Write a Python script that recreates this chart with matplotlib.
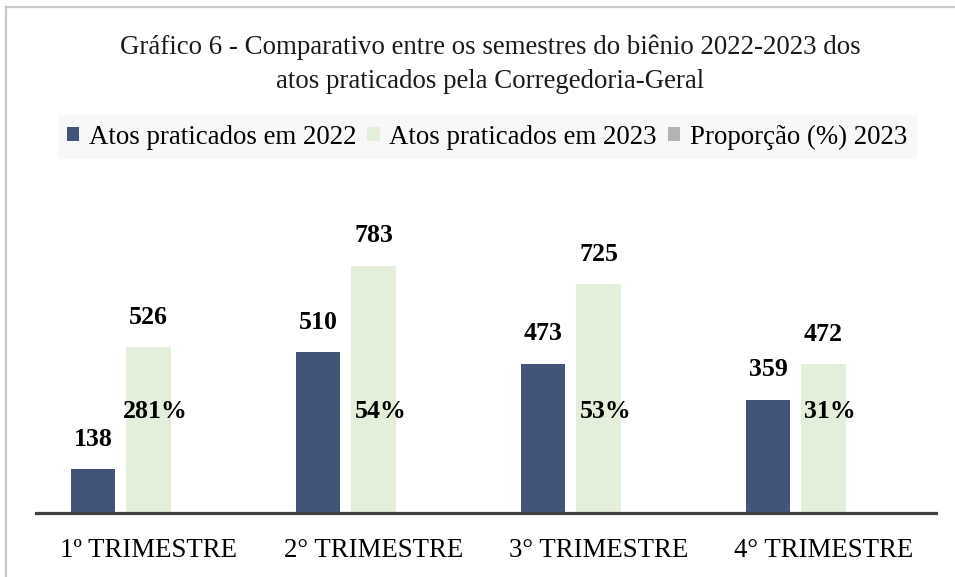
import matplotlib
matplotlib.use("Agg")
import matplotlib.pyplot as plt
from matplotlib.patches import Patch
from matplotlib.lines import Line2D
import numpy as np

categories = ["1º TRIMESTRE", "2° TRIMESTRE", "3° TRIMESTRE", "4° TRIMESTRE"]
atos_2022 = [138, 510, 473, 359]
atos_2023 = [526, 783, 725, 472]
proporcao_2023 = ["281%", "54%", "53%", "31%"]
series_names = ["Atos praticados em 2022", "Atos praticados em 2023", "Proporção (%) 2023"]
title_lines = ["Gráfico 6 - Comparativo entre os semestres do biênio 2022-2023 dos",
               "atos praticados pela Corregedoria-Geral"]

C_NAVY = "#425579"
C_GREEN = "#E3EFDA"
C_GRAY = "#B3B3B3"

plt.rcParams['font.family'] = ['Liberation Serif', 'DejaVu Serif']

W, H = 955, 577
fig = plt.figure(figsize=(W / 100, H / 100), dpi=100)
fig.patch.set_facecolor("white")

ax = fig.add_axes([36 / W, 1 - 513 / H, 900 / W, 284 / H])
ax.set_xlim(-0.5, 3.5)
ax.set_ylim(0, 900)

x = np.arange(len(categories))
bw = 0.196
off = 0.245
b1 = ax.bar(x - off, atos_2022, width=bw, color=C_NAVY, zorder=2)
b2 = ax.bar(x, atos_2023, width=bw, color=C_GREEN, zorder=2)

lab_fs = 18.6
for xi, v in zip(x - off, atos_2022):
    ax.annotate(str(v), (xi, v), xytext=(0, 21.6), textcoords="offset points",
                ha="center", va="center", fontsize=lab_fs, fontweight="bold", color="black")
for xi, v in zip(x, atos_2023):
    ax.annotate(str(v), (xi, v), xytext=(0, 21.6), textcoords="offset points",
                ha="center", va="center", fontsize=lab_fs, fontweight="bold", color="black")
for xi, p in zip(x, proporcao_2023):
    ax.text(xi + 0.03, 322, p, ha="center", va="center", fontsize=lab_fs,
            fontweight="bold", color="black", zorder=3)

for s in ["top", "right", "left"]:
    ax.spines[s].set_visible(False)
ax.spines["bottom"].set_color("#404040")
ax.spines["bottom"].set_linewidth(2.3)
ax.spines["bottom"].set_zorder(4)
ax.set_yticks([])
ax.set_xticks(x)
ax.set_xticklabels(categories, fontsize=19.4, color="black")
ax.tick_params(axis="x", length=0, pad=18)
ax.patch.set_alpha(0)

# title
fig.text(0.513, 1 - 47 / H, title_lines[0], ha="center", va="center", fontsize=19.4, color="#1a1a1a")
fig.text(0.513, 1 - 81 / H, title_lines[1], ha="center", va="center", fontsize=19.4, color="#1a1a1a")

# legend
handles = [Patch(facecolor=C_NAVY, edgecolor="none"),
           Patch(facecolor=C_GREEN, edgecolor="none"),
           Patch(facecolor=C_GRAY, edgecolor="none")]
leg = fig.legend(handles, series_names, loc="center", bbox_to_anchor=(0.51, 1 - 137 / H),
                 ncol=3, fontsize=19.4, frameon=True, handlelength=0.45, handleheight=0.45,
                 handletextpad=0.37, columnspacing=0.4, borderpad=0.35, fancybox=False)
leg.get_frame().set_facecolor("#F7F7F7")
leg.get_frame().set_edgecolor("none")

# border (top and left)
fig.add_artist(Line2D([6 / W, 1], [1 - 7 / H, 1 - 7 / H], transform=fig.transFigure,
                      color="#C8C8C8", linewidth=1.6))
fig.add_artist(Line2D([6 / W, 6 / W], [0, 1 - 7 / H], transform=fig.transFigure,
                      color="#C8C8C8", linewidth=1.6))

fig.savefig("out.png", dpi=100)
